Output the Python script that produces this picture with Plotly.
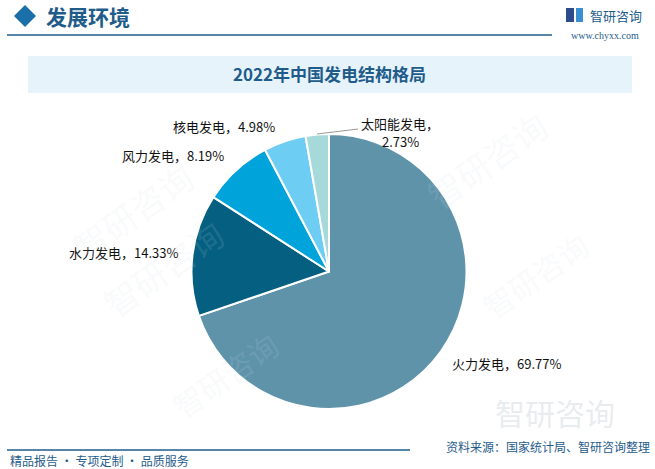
import plotly.graph_objects as go

categories = ["火力发电", "水力发电", "风力发电", "核电发电", "太阳能发电"]
shares = [69.77, 14.33, 8.19, 4.98, 2.73]
colors = ["#5E93AA", "#045F80", "#00A3DA", "#6DCDF3", "#A5D9DA"]

W, H = 655, 469
def px(x): return x / W
def py(y): return 1 - y / H

fig = go.Figure()
cx, cy, r = 329, 271.5, 137.5
fig.add_trace(go.Pie(
    labels=categories, values=shares, sort=False, direction="clockwise",
    rotation=0, marker=dict(colors=colors, line=dict(color="white", width=2)),
    textinfo="none", hoverinfo="label+percent", showlegend=False,
    domain=dict(x=[px(cx - r), px(cx + r)], y=[py(cy + r), py(cy - r)]),
))

label_font = dict(family="Noto Sans CJK SC, SimSun, serif", size=13, color="#111111")
label_pos = [(506, 363, "center"), (180, 252, "right"), (226, 156, "right"), (277, 126, "right"), (400, 123, "center")]
ann = []
for (name, v), (x, y, anc) in zip(zip(categories, shares), label_pos):
    if name == "太阳能发电":
        ann.append(dict(x=px(x), y=py(y), xref="paper", yref="paper", text=f"{name}，", showarrow=False,
                        xanchor=anc, yanchor="middle", font=label_font))
        ann.append(dict(x=px(x), y=py(y + 18), xref="paper", yref="paper", text=f"{v:.2f}%", showarrow=False,
                        xanchor=anc, yanchor="middle", font=label_font))
    else:
        ann.append(dict(x=px(x), y=py(y), xref="paper", yref="paper", text=f"{name}，{v:.2f}%", showarrow=False,
                        xanchor=anc, yanchor="middle", font=label_font))

# header
ann.append(dict(x=px(44), y=py(16), xref="paper", yref="paper", text="<b>发展环境</b>", showarrow=False,
                xanchor="left", yanchor="middle",
                font=dict(family="Noto Sans CJK SC", size=21, color="#1F5C8A")))
ann.append(dict(x=px(588), y=py(15), xref="paper", yref="paper", text="智研咨询", showarrow=False,
                xanchor="left", yanchor="middle",
                font=dict(family="Noto Sans CJK SC", size=13, color="#1F5C8A")))
ann.append(dict(x=px(641), y=py(35), xref="paper", yref="paper", text="www.chyxx.com", showarrow=False,
                xanchor="right", yanchor="middle",
                font=dict(family="Liberation Serif", size=10, color="#1F5C8A")))
# title banner
ann.append(dict(x=px(330), y=py(74), xref="paper", yref="paper", text="<b>2022年中国发电结构格局</b>", showarrow=False,
                xanchor="center", yanchor="middle",
                font=dict(family="Noto Sans CJK SC", size=17, color="#1F5C8A")))
# footer
ann.append(dict(x=px(8), y=py(460), xref="paper", yref="paper", text="精品报告 · 专项定制 · 品质服务", showarrow=False,
                xanchor="left", yanchor="middle",
                font=dict(family="Noto Sans CJK SC", size=12, color="#1F5C8A")))
ann.append(dict(x=px(652), y=py(446), xref="paper", yref="paper", text="资料来源：国家统计局、智研咨询整理", showarrow=False,
                xanchor="right", yanchor="middle",
                font=dict(family="Noto Sans CJK SC", size=12, color="#1F5C8A")))
# faint watermark
for (wx, wy, ang, sz) in [(60, 150, -35, 34), (560, 160, -35, 34), (90, 330, -35, 34), (600, 330, -35, 30), (160, 430, -35, 30)]:
    ann.append(dict(x=px(wx), y=py(wy), xref="paper", yref="paper", text="智研咨询", showarrow=False,
                    textangle=ang, font=dict(family="Noto Sans CJK SC", size=sz, color="rgba(210,220,228,0.15)")))
ann.append(dict(x=px(555), y=py(412), xref="paper", yref="paper", text="智研咨询", showarrow=False,
                xanchor="center", yanchor="middle",
                font=dict(family="Noto Sans CJK SC", size=30, color="rgba(190,200,210,0.35)")))

shapes = [
    dict(type="path", xref="paper", yref="paper",
         path=f"M {px(14)} {py(16)} L {px(25)} {py(5)} L {px(36)} {py(16)} L {px(25)} {py(27)} Z",
         fillcolor="#1A6FA8", line=dict(width=0)),
    dict(type="line", xref="paper", yref="paper", x0=px(7), x1=px(552), y0=py(35), y1=py(35),
         line=dict(color="#1F5C8A", width=1.5)),
    dict(type="rect", xref="paper", yref="paper", x0=px(566), x1=px(574), y0=py(22), y1=py(8),
         fillcolor="#2C4C8C", line=dict(width=0)),
    dict(type="rect", xref="paper", yref="paper", x0=px(576), x1=px(583), y0=py(22), y1=py(8),
         fillcolor="#3A8FD0", line=dict(width=0)),
    dict(type="rect", xref="paper", yref="paper", x0=px(28), x1=px(632), y0=py(93), y1=py(56),
         fillcolor="#E6F3FB", line=dict(width=0), layer="below"),
    dict(type="line", xref="paper", yref="paper", x0=px(7), x1=px(410), y0=py(450), y1=py(450),
         line=dict(color="#1F5C8A", width=1.5)),
    dict(type="line", xref="paper", yref="paper", x0=px(317), x1=px(358), y0=py(134), y1=py(129),
         line=dict(color="#999999", width=1)),
]

fig.update_layout(
    width=W, height=H, margin=dict(l=0, r=0, t=0, b=0),
    paper_bgcolor="white", plot_bgcolor="white",
    annotations=ann, shapes=shapes,
)
fig.write_html("out.html")
